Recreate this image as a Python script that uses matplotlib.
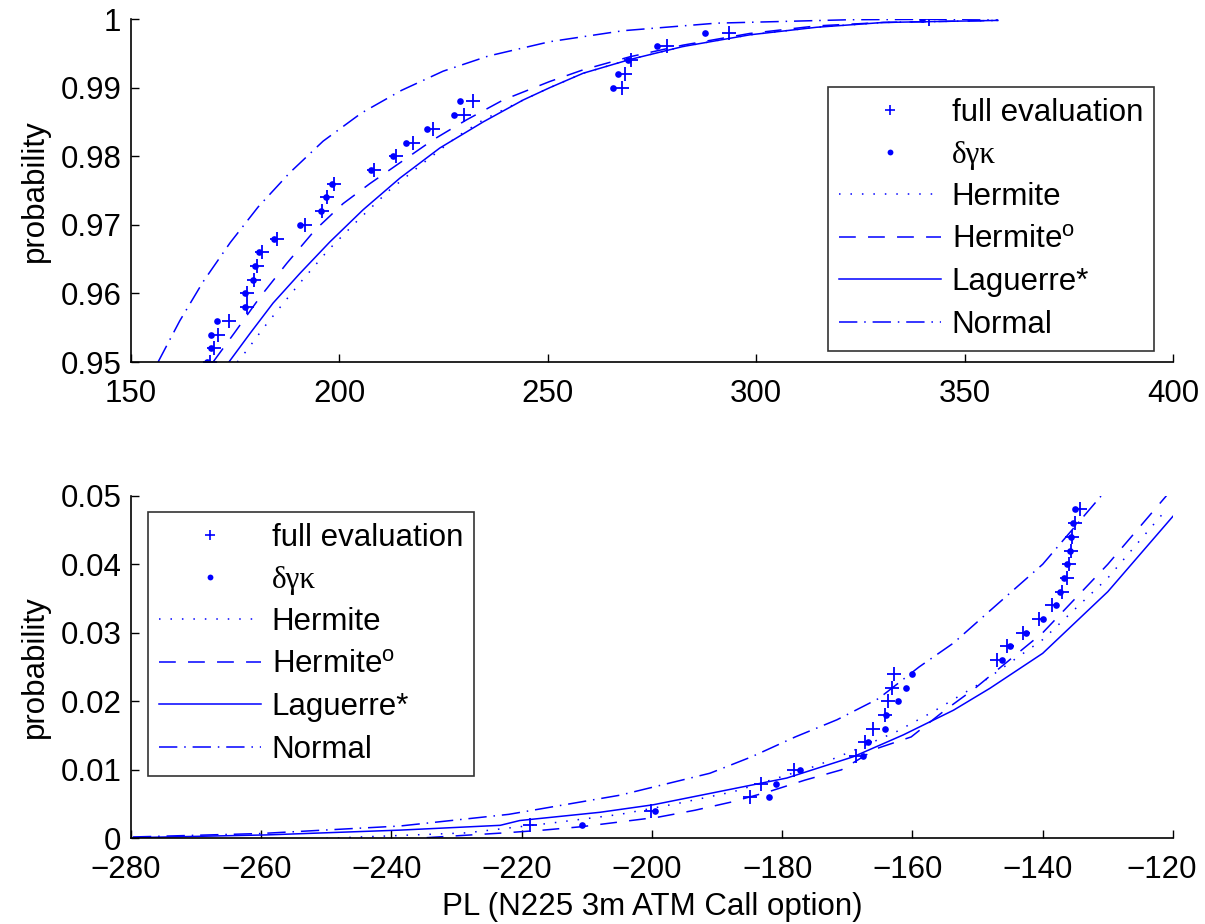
import matplotlib
matplotlib.use("Agg")
import matplotlib.pyplot as plt
from matplotlib.lines import Line2D
from matplotlib.transforms import ScaledTranslation

plt.rcParams['font.family'] = ['Liberation Sans', 'DejaVu Sans']
plt.rcParams['mathtext.fontset'] = 'custom'
plt.rcParams['mathtext.rm'] = 'Liberation Sans'
plt.rcParams['mathtext.sf'] = 'Liberation Sans'
plt.rcParams['axes.unicode_minus'] = True

# ---------------- top panel (upper tail) ----------------
top_prob = [0.950, 0.952, 0.954, 0.956, 0.958, 0.960, 0.962, 0.964, 0.966, 0.968,
            0.970, 0.972, 0.974, 0.976, 0.978, 0.980, 0.982, 0.984, 0.986, 0.988,
            0.990, 0.992, 0.994, 0.996, 0.998, 1.000]
top_full = [169.0, 170.0, 170.8, 173.6, 177.8, 177.9, 179.6, 180.2, 181.5, 185.0,
            191.7, 195.9, 197.1, 198.7, 208.3, 213.6, 217.6, 222.4, 229.9, 232.1,
            267.8, 268.6, 269.9, 278.5, 293.5, 341.5]
top_dgk = [168.2, 169.1, 169.3, 170.6, 177.3, 177.4, 179.2, 179.8, 180.8, 184.3,
           190.5, 195.5, 196.7, 198.3, 207.5, 212.8, 216.0, 221.1, 227.5, 228.9,
           265.6, 266.8, 269.3, 276.3, 287.8, 339.7]

top_herm_x = [175.5, 177.8, 181.7, 186.2, 190.5, 197.3, 204.5, 212.1, 220.1, 228.1,
              234.5, 244.1, 250.5, 258.5, 269.7, 282.5, 298.5, 314.5, 330.5, 358.0]
top_herm_y = [0.9500, 0.9517, 0.9549, 0.9583, 0.9615, 0.9663, 0.9707, 0.9751, 0.9790, 0.9828,
              0.9853, 0.9882, 0.9900, 0.9921, 0.9941, 0.9960, 0.9977, 0.9988, 0.9995, 0.9998]
top_hermo_x = [169.7, 175.0, 181.0, 187.4, 194.1, 200.9, 207.3, 214.9, 222.5, 230.5,
               239.3, 250.5, 258.5, 269.7, 282.5, 298.5, 314.5, 330.5, 358.0]
top_hermo_y = [0.9500, 0.9544, 0.9595, 0.9644, 0.9692, 0.9731, 0.9760, 0.9792, 0.9824, 0.9853,
               0.9882, 0.9909, 0.9926, 0.9945, 0.9962, 0.9979, 0.9990, 0.9995, 0.9998]
top_lag_x = [173.5, 178.6, 184.1, 190.5, 197.7, 205.7, 214.5, 224.1, 234.5, 244.1,
             250.5, 258.5, 269.7, 282.5, 298.5, 314.5, 330.5, 358.0]
top_lag_y = [0.9500, 0.9542, 0.9586, 0.9629, 0.9675, 0.9722, 0.9768, 0.9812, 0.9850, 0.9882,
             0.9900, 0.9921, 0.9941, 0.9960, 0.9977, 0.9988, 0.9995, 0.9998]
top_norm_x = [156.5, 161.7, 167.3, 173.8, 180.5, 188.1, 196.1, 205.3, 214.9, 224.9,
              235.7, 250.5, 268.1, 290.5, 322.5, 358.0]
top_norm_y = [0.9500, 0.9560, 0.9617, 0.9674, 0.9726, 0.9776, 0.9822, 0.9863, 0.9896, 0.9924,
              0.9946, 0.9967, 0.9983, 0.9994, 0.9999, 1.0000]

# ---------------- bottom panel (lower tail) ----------------
bot_prob = [0.002, 0.004, 0.006, 0.008, 0.010, 0.012, 0.014, 0.016, 0.018, 0.020,
            0.022, 0.024, 0.026, 0.028, 0.030, 0.032, 0.034, 0.036, 0.038, 0.040,
            0.042, 0.044, 0.046, 0.048]
bot_full = [-218.7, -200.2, -185.0, -183.3, -178.2, -168.6, -167.3, -166.0, -164.2, -163.7,
            -163.2, -162.9, -147.0, -145.5, -143.0, -140.5, -138.5, -137.0, -136.3, -136.0,
            -135.6, -135.5, -135.0, -134.3]
bot_dgk = [-210.8, -199.5, -182.1, -180.9, -177.3, -167.6, -166.8, -164.2, -164.0, -162.2,
           -161.0, -160.0, -146.3, -145.0, -142.5, -140.0, -138.0, -137.3, -136.7, -136.2,
           -135.8, -135.6, -135.4, -135.0]

bot_herm_x = [-250.0, -228.5, -215.7, -204.9, -196.0, -187.5, -174.7, -168.6, -162.4, -156.8,
              -149.1, -140.0, -130.0, -121.0]
bot_herm_y = [0.0000, 0.0008, 0.0022, 0.0035, 0.0051, 0.0068, 0.0106, 0.0130, 0.0156, 0.0185,
              0.0229, 0.0290, 0.0380, 0.0480]
bot_hermo_x = [-234.6, -222.6, -216.7, -210.8, -204.9, -199.0, -193.4, -187.8, -182.1, -176.5,
               -170.9, -165.5, -160.2, -155.0, -150.4, -140.0, -130.0, -121.0]
bot_hermo_y = [0.0001, 0.0008, 0.0012, 0.0017, 0.0024, 0.0031, 0.0041, 0.0053, 0.0068, 0.0085,
               0.0100, 0.0131, 0.0148, 0.0187, 0.0219, 0.0300, 0.0400, 0.0500]
bot_lag_x = [-279.7, -259.2, -238.7, -223.3, -220.3, -208.0, -199.8, -179.3, -169.1, -161.4,
             -153.7, -148.1, -140.0, -130.0, -120.0]
bot_lag_y = [0.0001, 0.0005, 0.0012, 0.0019, 0.0026, 0.0038, 0.0049, 0.0088, 0.0119, 0.0151,
             0.0187, 0.0219, 0.0270, 0.0360, 0.0470]
bot_norm_x = [-279.7, -260.2, -238.7, -222.0, -204.9, -191.1, -184.7, -178.0, -171.6, -165.2,
              -159.0, -153.7, -148.6, -140.0, -131.0]
bot_norm_y = [0.0002, 0.0007, 0.0018, 0.0035, 0.0063, 0.0095, 0.0119, 0.0148, 0.0173, 0.0204,
              0.0250, 0.0285, 0.0328, 0.0400, 0.0500]

top_xticks = [150, 200, 250, 300, 350, 400]
top_yticks = [0.95, 0.96, 0.97, 0.98, 0.99, 1.0]
top_yticklabels = ['0.95', '0.96', '0.97', '0.98', '0.99', '1']
bot_xticks = [-280, -260, -240, -220, -200, -180, -160, -140, -120]
bot_yticks = [0.0, 0.01, 0.02, 0.03, 0.04, 0.05]
bot_yticklabels = ['0', '0.01', '0.02', '0.03', '0.04', '0.05']

labels = ['full evaluation', 'δγκ', 'Hermite', 'Hermite$^{\\rm o}$', 'Laguerre*', 'Normal']

BLUE = (0, 0, 1)
FS = 22.5
LW = 1.1
DOT = (0, (1, 6.5))
DASH = (0, (11, 8))
DASHDOT = (0, (12, 4.5, 1, 4.5))

fig = plt.figure(figsize=(12.05, 9.24), dpi=100)
ax1 = fig.add_axes([0.1087, 0.6082, 0.8647, 0.3712])
ax2 = fig.add_axes([0.1087, 0.0927, 0.8647, 0.3708])


def draw(ax, prob, full, dgk, curves):
    ax.plot(full, prob, linestyle='none', marker='+', color=BLUE, markersize=9.5, mew=1.3)
    ax.plot(dgk, prob, linestyle='none', marker='o', color=BLUE, markersize=4.8, mew=0)
    for (xs, ys, ls) in curves:
        ax.plot(xs, ys, color=BLUE, linestyle=ls, linewidth=LW)
    for s in ['top', 'right']:
        ax.spines[s].set_visible(False)
    for s in ['left', 'bottom']:
        ax.spines[s].set_linewidth(1.2)
    ax.tick_params(axis='both', direction='in', length=6, width=1.0, labelsize=FS)
    ax.tick_params(axis='x', pad=12)
    ax.tick_params(axis='y', pad=7)
    ax.set_ylabel('probability', fontsize=FS)


draw(ax1, top_prob, top_full, top_dgk,
     [(top_herm_x, top_herm_y, DOT), (top_hermo_x, top_hermo_y, DASH),
      (top_lag_x, top_lag_y, '-'), (top_norm_x, top_norm_y, DASHDOT)])
ax1.set_xlim(150, 400)
ax1.set_ylim(0.95, 1.0)
ax1.set_xticks(top_xticks)
ax1.set_yticks(top_yticks)
ax1.set_yticklabels(top_yticklabels)
ax1.yaxis.set_label_coords(-0.078, 0.5)

draw(ax2, bot_prob, bot_full, bot_dgk,
     [(bot_herm_x, bot_herm_y, DOT), (bot_hermo_x, bot_hermo_y, DASH),
      (bot_lag_x, bot_lag_y, '-'), (bot_norm_x, bot_norm_y, DASHDOT)])
ax2.set_xlim(-280, -120)
ax2.set_ylim(0.0, 0.05)
ax2.set_xticks(bot_xticks)
ax2.set_xticklabels([str(v).replace('-', '\u2212') for v in bot_xticks])
ax2.set_yticks(bot_yticks)
ax2.set_yticklabels(bot_yticklabels)
ax2.yaxis.set_label_coords(-0.078, 0.5)
ax2.set_xlabel('PL (N225 3m ATM Call option)', fontsize=FS, labelpad=5)

# negative tick labels sit slightly left of their ticks, the last one kept inside the figure
xt = ax2.get_xticklabels()
for i, lbl in enumerate(xt):
    dx = -11 if i == len(xt) - 1 else -5
    lbl.set_transform(lbl.get_transform() + ScaledTranslation(dx / 100, 0, fig.dpi_scale_trans))


def legend_handles():
    return [Line2D([], [], linestyle='none', marker='+', color=BLUE, markersize=7, mew=1.2),
            Line2D([], [], linestyle='none', marker='o', color=BLUE, markersize=4.2, mew=0),
            Line2D([], [], color=BLUE, linestyle=DOT, linewidth=LW),
            Line2D([], [], color=BLUE, linestyle=DASH, linewidth=LW),
            Line2D([], [], color=BLUE, linestyle='-', linewidth=LW),
            Line2D([], [], color=BLUE, linestyle=DASHDOT, linewidth=LW)]


def make_legend(ax, bbox):
    leg = ax.legend(legend_handles(), labels, loc='upper left', bbox_to_anchor=bbox,
                    bbox_transform=fig.transFigure, fontsize=FS, frameon=True,
                    fancybox=False, edgecolor='black', handlelength=3.25,
                    handletextpad=0.35, labelspacing=0.40, borderpad=0.36,
                    borderaxespad=0)
    leg.get_frame().set_linewidth(1.2)
    leg.get_texts()[1].set_fontfamily(['Liberation Serif', 'DejaVu Serif'])
    return leg


make_legend(ax1, (828 / 1205, 1 - 87 / 924))
make_legend(ax2, (148 / 1205, 1 - 512 / 924))

fig.savefig('out.png', dpi=100)
